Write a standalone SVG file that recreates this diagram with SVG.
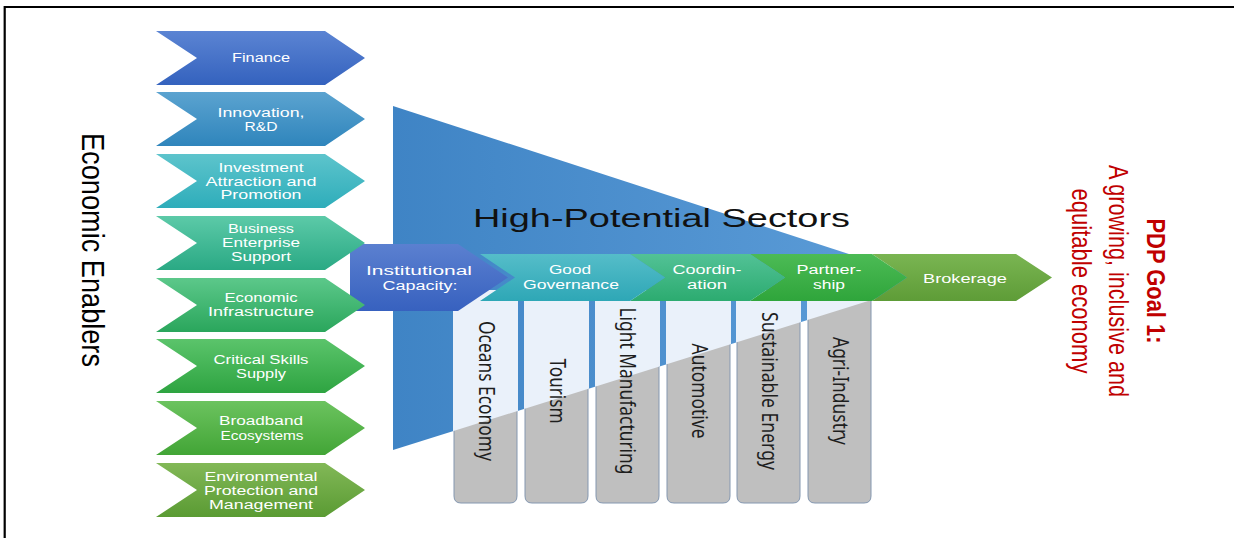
<svg xmlns="http://www.w3.org/2000/svg" xmlns:xlink="http://www.w3.org/1999/xlink" width="1234" height="538" viewBox="0 0 1234 538">
<style>
.lbl{font-family:"Liberation Sans",Arial,sans-serif;font-size:12px;fill:#ffffff;text-anchor:middle}
.blbl{font-family:"Liberation Sans",Arial,sans-serif;font-size:12.5px;fill:#ffffff;text-anchor:middle}
.col{font-family:"Liberation Sans Narrow","Noto Sans",sans-serif;font-size:21px;fill:#1e1e1e;text-anchor:middle}
.goal{font-family:"Liberation Sans",Arial,sans-serif;fill:#c00000;text-anchor:middle}
</style>
<defs>
<path id="chev" d="M0,0 H169 L209,27 L169,54 H0 L41,27 Z"/>
<path id="colshape" d="M0,296 V496 Q0,503 7,503 H56 Q63,503 63,496 V296 Z"/>
<linearGradient id="g1" x1="0" y1="0" x2="0" y2="1"><stop offset="0" stop-color="#5b84d3"/><stop offset="1" stop-color="#3462be"/></linearGradient>
<linearGradient id="g2" x1="0" y1="0" x2="0" y2="1"><stop offset="0" stop-color="#5ba3d0"/><stop offset="1" stop-color="#2f85bc"/></linearGradient>
<linearGradient id="g3" x1="0" y1="0" x2="0" y2="1"><stop offset="0" stop-color="#5dc4cc"/><stop offset="1" stop-color="#2eadba"/></linearGradient>
<linearGradient id="g4" x1="0" y1="0" x2="0" y2="1"><stop offset="0" stop-color="#5ccaa8"/><stop offset="1" stop-color="#2aa984"/></linearGradient>
<linearGradient id="g5" x1="0" y1="0" x2="0" y2="1"><stop offset="0" stop-color="#5cc88a"/><stop offset="1" stop-color="#2aa65c"/></linearGradient>
<linearGradient id="g6" x1="0" y1="0" x2="0" y2="1"><stop offset="0" stop-color="#5bc46b"/><stop offset="1" stop-color="#2ea441"/></linearGradient>
<linearGradient id="g7" x1="0" y1="0" x2="0" y2="1"><stop offset="0" stop-color="#6cc35f"/><stop offset="1" stop-color="#42a536"/></linearGradient>
<linearGradient id="g8" x1="0" y1="0" x2="0" y2="1"><stop offset="0" stop-color="#82b857"/><stop offset="1" stop-color="#5a9b33"/></linearGradient>
<linearGradient id="gInst" x1="0" y1="0" x2="0" y2="1"><stop offset="0" stop-color="#5b80d0"/><stop offset="1" stop-color="#3761bf"/></linearGradient>
<linearGradient id="gGG" x1="0" y1="0" x2="0" y2="1"><stop offset="0" stop-color="#55bdc9"/><stop offset="1" stop-color="#2ea7b6"/></linearGradient>
<linearGradient id="gCo" x1="0" y1="0" x2="0" y2="1"><stop offset="0" stop-color="#52c296"/><stop offset="1" stop-color="#2cab70"/></linearGradient>
<linearGradient id="gPa" x1="0" y1="0" x2="0" y2="1"><stop offset="0" stop-color="#4cbb55"/><stop offset="1" stop-color="#2fa53b"/></linearGradient>
<linearGradient id="gBr" x1="0" y1="0" x2="0" y2="1"><stop offset="0" stop-color="#7ab552"/><stop offset="1" stop-color="#5e9c37"/></linearGradient>
<linearGradient id="gTri" x1="0" y1="0" x2="1" y2="0"><stop offset="0" stop-color="#3f84c5"/><stop offset="1" stop-color="#5e9ed9"/></linearGradient>
<clipPath id="triClip"><polygon points="393,106 932,281 393,450"/></clipPath>
</defs>

<rect width="1234" height="538" fill="#ffffff"/>
<path d="M4.7,538 V7 H1234" fill="none" stroke="#000000" stroke-width="2.2"/>

<g id="high-potential-sectors">
<polygon points="393,106 932,281 393,450" fill="url(#gTri)"/>
<text x="473" y="227" font-family="Liberation Sans, Arial, sans-serif" font-size="25" fill="#111111" textLength="377" lengthAdjust="spacingAndGlyphs">High-Potential Sectors</text>
</g>

<g id="sector-columns">
<g fill="#bfbfbf" stroke="#8497b0" stroke-width="1">
<use href="#colshape" x="454"/>
<use href="#colshape" x="525"/>
<use href="#colshape" x="596"/>
<use href="#colshape" x="667"/>
<use href="#colshape" x="737"/>
<use href="#colshape" x="808"/>
</g>
<g clip-path="url(#triClip)" fill="#eaf1fa">
<rect x="453" y="290" width="65" height="215"/>
<rect x="524" y="290" width="65" height="215"/>
<rect x="595" y="290" width="65" height="215"/>
<rect x="666" y="290" width="65" height="215"/>
<rect x="736" y="290" width="65" height="215"/>
<rect x="807" y="290" width="65" height="215"/>
</g>
</g>
<g id="col-oceans"><text class="col" transform="translate(478.5,391) rotate(90)" textLength="140" lengthAdjust="spacingAndGlyphs">Oceans Economy</text></g>
<g id="col-tourism"><text class="col" transform="translate(549.5,391) rotate(90)" textLength="65" lengthAdjust="spacingAndGlyphs">Tourism</text></g>
<g id="col-light"><text class="col" transform="translate(619.5,391) rotate(90)" textLength="167" lengthAdjust="spacingAndGlyphs">Light Manufacturing</text></g>
<g id="col-automotive"><text class="col" transform="translate(691.5,391) rotate(90)" textLength="95" lengthAdjust="spacingAndGlyphs">Automotive</text></g>
<g id="col-energy"><text class="col" transform="translate(761.5,391) rotate(90)" textLength="158" lengthAdjust="spacingAndGlyphs">Sustainable Energy</text></g>
<g id="col-agri"><text class="col" transform="translate(832.5,391) rotate(90)" textLength="108" lengthAdjust="spacingAndGlyphs">Agri-Industry</text></g>

<g id="brokerage">
<path d="M872,254 H1016 L1052,277.5 L1016,301 H872 L907,277.5 Z" fill="url(#gBr)"/>
<text class="blbl" x="965" y="282.5" textLength="84" lengthAdjust="spacingAndGlyphs">Brokerage</text>
</g>
<g id="partnership">
<path d="M750,254 H872 L907,277.5 L872,301 H750 L785,277.5 Z" fill="url(#gPa)"/>
<text class="blbl" x="829" y="274" textLength="65" lengthAdjust="spacingAndGlyphs">Partner-</text>
<text class="blbl" x="829" y="288.5" textLength="32" lengthAdjust="spacingAndGlyphs">ship</text>
</g>
<g id="coordination">
<path d="M630,254 H750 L785,277.5 L750,301 H630 L665,277.5 Z" fill="url(#gCo)"/>
<text class="blbl" x="707" y="274" textLength="69" lengthAdjust="spacingAndGlyphs">Coordin-</text>
<text class="blbl" x="707" y="288.5" textLength="40" lengthAdjust="spacingAndGlyphs">ation</text>
</g>
<g id="good-governance">
<path d="M480,254 H630 L665,277.5 L630,301 H480 L515,277.5 Z" fill="url(#gGG)"/>
<text class="blbl" x="570" y="274" textLength="42" lengthAdjust="spacingAndGlyphs">Good</text>
<text class="blbl" x="571" y="288.5" textLength="96" lengthAdjust="spacingAndGlyphs">Governance</text>
</g>
<g id="institutional-capacity">
<path d="M350,244 H458 L508,277.5 L458,311 H350 Z" fill="url(#gInst)"/>
<text class="blbl" x="419" y="274.5" textLength="106" lengthAdjust="spacingAndGlyphs">Institutional</text>
<text class="blbl" x="420" y="289.5" textLength="75" lengthAdjust="spacingAndGlyphs">Capacity:</text>
</g>

<g id="enabler-finance">
<use href="#chev" x="156" y="31" fill="url(#g1)"/>
<text class="lbl" x="261" y="61.5" textLength="58" lengthAdjust="spacingAndGlyphs">Finance</text>
</g>
<g id="enabler-innovation">
<use href="#chev" x="156" y="92" fill="url(#g2)"/>
<text class="lbl" x="261" y="117" textLength="87" lengthAdjust="spacingAndGlyphs">Innovation,</text>
<text class="lbl" x="261" y="130.5" textLength="33" lengthAdjust="spacingAndGlyphs">R&amp;D</text>
</g>
<g id="enabler-investment">
<use href="#chev" x="156" y="154" fill="url(#g3)"/>
<text class="lbl" x="261" y="172" textLength="85" lengthAdjust="spacingAndGlyphs">Investment</text>
<text class="lbl" x="261" y="185.5" textLength="111" lengthAdjust="spacingAndGlyphs">Attraction and</text>
<text class="lbl" x="261" y="199" textLength="81" lengthAdjust="spacingAndGlyphs">Promotion</text>
</g>
<g id="enabler-business">
<use href="#chev" x="156" y="216" fill="url(#g4)"/>
<text class="lbl" x="261" y="233" textLength="66" lengthAdjust="spacingAndGlyphs">Business</text>
<text class="lbl" x="261" y="247" textLength="78" lengthAdjust="spacingAndGlyphs">Enterprise</text>
<text class="lbl" x="261" y="261" textLength="60" lengthAdjust="spacingAndGlyphs">Support</text>
</g>
<g id="enabler-infrastructure">
<use href="#chev" x="156" y="278" fill="url(#g5)"/>
<text class="lbl" x="261" y="302" textLength="73" lengthAdjust="spacingAndGlyphs">Economic</text>
<text class="lbl" x="261" y="316" textLength="106" lengthAdjust="spacingAndGlyphs">Infrastructure</text>
</g>
<g id="enabler-skills">
<use href="#chev" x="156" y="339" fill="url(#g6)"/>
<text class="lbl" x="261" y="364" textLength="95" lengthAdjust="spacingAndGlyphs">Critical Skills</text>
<text class="lbl" x="261" y="377.5" textLength="50" lengthAdjust="spacingAndGlyphs">Supply</text>
</g>
<g id="enabler-broadband">
<use href="#chev" x="156" y="401" fill="url(#g7)"/>
<text class="lbl" x="261" y="425" textLength="84" lengthAdjust="spacingAndGlyphs">Broadband</text>
<text class="lbl" x="262" y="439.5" textLength="83" lengthAdjust="spacingAndGlyphs">Ecosystems</text>
</g>
<g id="enabler-environment">
<use href="#chev" x="156" y="463" fill="url(#g8)"/>
<text class="lbl" x="261" y="481" textLength="113" lengthAdjust="spacingAndGlyphs">Environmental</text>
<text class="lbl" x="261" y="495" textLength="114" lengthAdjust="spacingAndGlyphs">Protection and</text>
<text class="lbl" x="261" y="508.5" textLength="104" lengthAdjust="spacingAndGlyphs">Management</text>
</g>

<g id="economic-enablers-title">
<text transform="translate(82,250) rotate(90)" font-family="Liberation Sans, Arial, sans-serif" font-size="32" fill="#000000" text-anchor="middle" textLength="234" lengthAdjust="spacingAndGlyphs">Economic Enablers</text>
</g>

<g id="pdp-goal">
<text class="goal" transform="translate(1147,281) rotate(90)" font-size="26" font-weight="bold" textLength="125" lengthAdjust="spacingAndGlyphs">PDP Goal 1:</text>
<text class="goal" transform="translate(1109,281) rotate(90)" font-size="28" textLength="232" lengthAdjust="spacingAndGlyphs">A growing, inclusive and</text>
<text class="goal" transform="translate(1072,281) rotate(90)" font-size="28" textLength="185" lengthAdjust="spacingAndGlyphs">equitable economy</text>
</g>

<g id="connectors"></g>
</svg>
